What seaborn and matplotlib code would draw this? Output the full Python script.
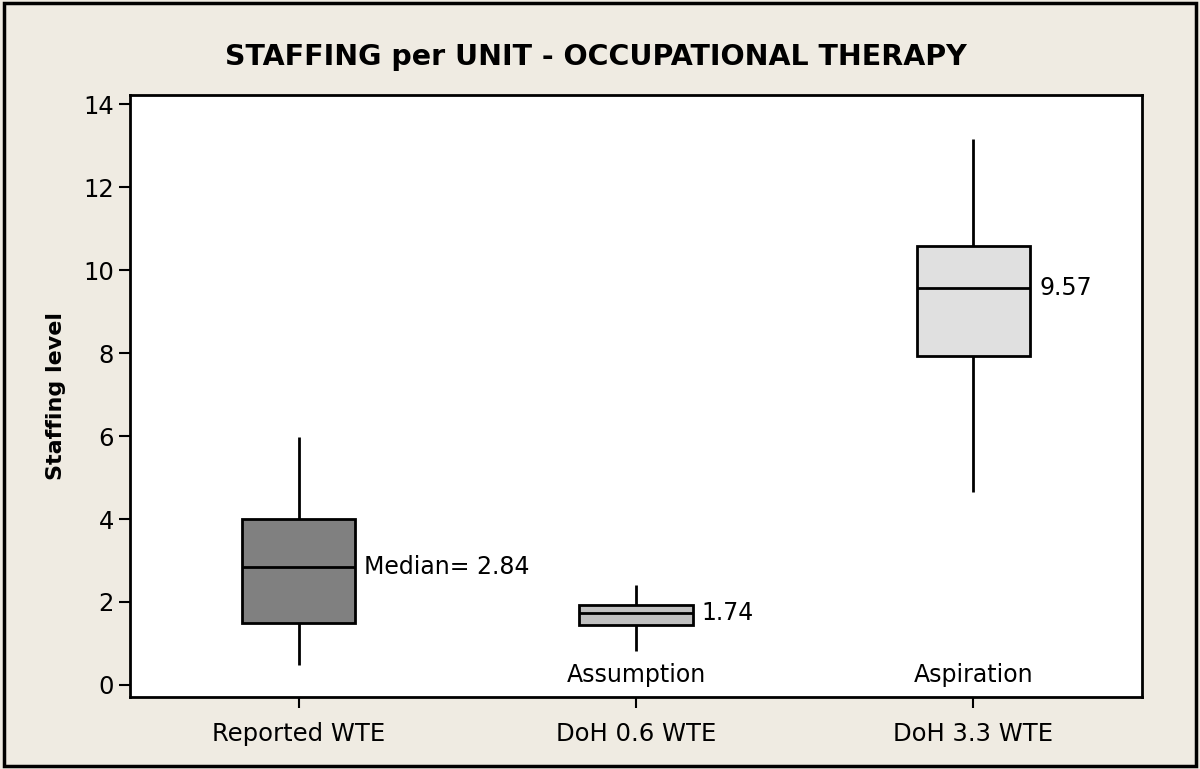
import numpy as np
import pandas as pd
import matplotlib
matplotlib.use("Agg")
import matplotlib.pyplot as plt
import seaborn as sns

categories = ["Reported WTE", "DoH 0.6 WTE", "DoH 3.3 WTE"]
# five-number summaries: min, Q1, median, Q3, max
reported = [0.48, 1.49, 2.84, 4.00, 5.98]
doh06 = [0.82, 1.45, 1.74, 1.93, 2.41]
doh33 = [4.65, 7.93, 9.57, 10.58, 13.16]
box_colors = ["#808080", "#c0c0c0", "#e0e0e0"]
median_labels = ["Median= 2.84", "1.74", "9.57"]
sub_labels = ["", "Assumption", "Aspiration"]
yticks = [0, 2, 4, 6, 8, 10, 12, 14]

df = pd.DataFrame({
    "group": np.repeat(categories, 5),
    "value": reported + doh06 + doh33,
})

sns.set_style("white")
plt.rcParams["font.family"] = ["DejaVu Sans"]
plt.rcParams["text.color"] = "black"
plt.rcParams["axes.labelcolor"] = "black"

bg = "#efebe2"
fig = plt.figure(figsize=(12, 7.69), dpi=100, facecolor=bg)
ax = fig.add_axes([130 / 1200, 1 - 697 / 769, (1142 - 130) / 1200, (697 - 95) / 769])
ax.set_facecolor("white")

sns.boxplot(data=df, x="group", y="value", hue="group", order=categories,
            hue_order=categories, palette=box_colors, legend=False,
            whis=(0, 100), width=0.335, linecolor="black", linewidth=2,
            showcaps=False, fliersize=0, saturation=1, ax=ax)

ax.set_xlim(-0.5, 2.5)
ax.set_ylim(-0.29, 14.22)
ax.set_yticks(yticks)
ax.set_yticklabels([str(t) for t in yticks])
ax.set_xlabel("")
ax.set_ylabel("Staffing level", fontsize=16, fontweight="bold", labelpad=12,
              color="black")
ax.tick_params(axis="both", direction="out", length=8, width=1.5, labelsize=17.5,
               colors="black", labelcolor="black", left=True, bottom=True)
ax.tick_params(axis="x", pad=10)
for s in ax.spines.values():
    s.set_color("black")
    s.set_linewidth(2)

meds = [reported[2], doh06[2], doh33[2]]
for i, (m, lab) in enumerate(zip(meds, median_labels)):
    ax.text(i + 0.195, m, lab, ha="left", va="center", fontsize=17, color="black")
for i, lab in enumerate(sub_labels):
    if lab:
        ax.text(i, -0.05, lab, ha="center", va="bottom", fontsize=17, color="black")

fig.text(596 / 1200, 1 - 57 / 769, "STAFFING per UNIT - OCCUPATIONAL THERAPY",
         ha="center", va="center", fontsize=20.5, fontweight="bold", color="black")

border = plt.Rectangle((0.003, 0.004), 0.994, 0.992, transform=fig.transFigure,
                       fill=False, edgecolor="black", linewidth=2.5)
fig.patches.append(border)

fig.savefig("out.png", dpi=100, facecolor=bg)
